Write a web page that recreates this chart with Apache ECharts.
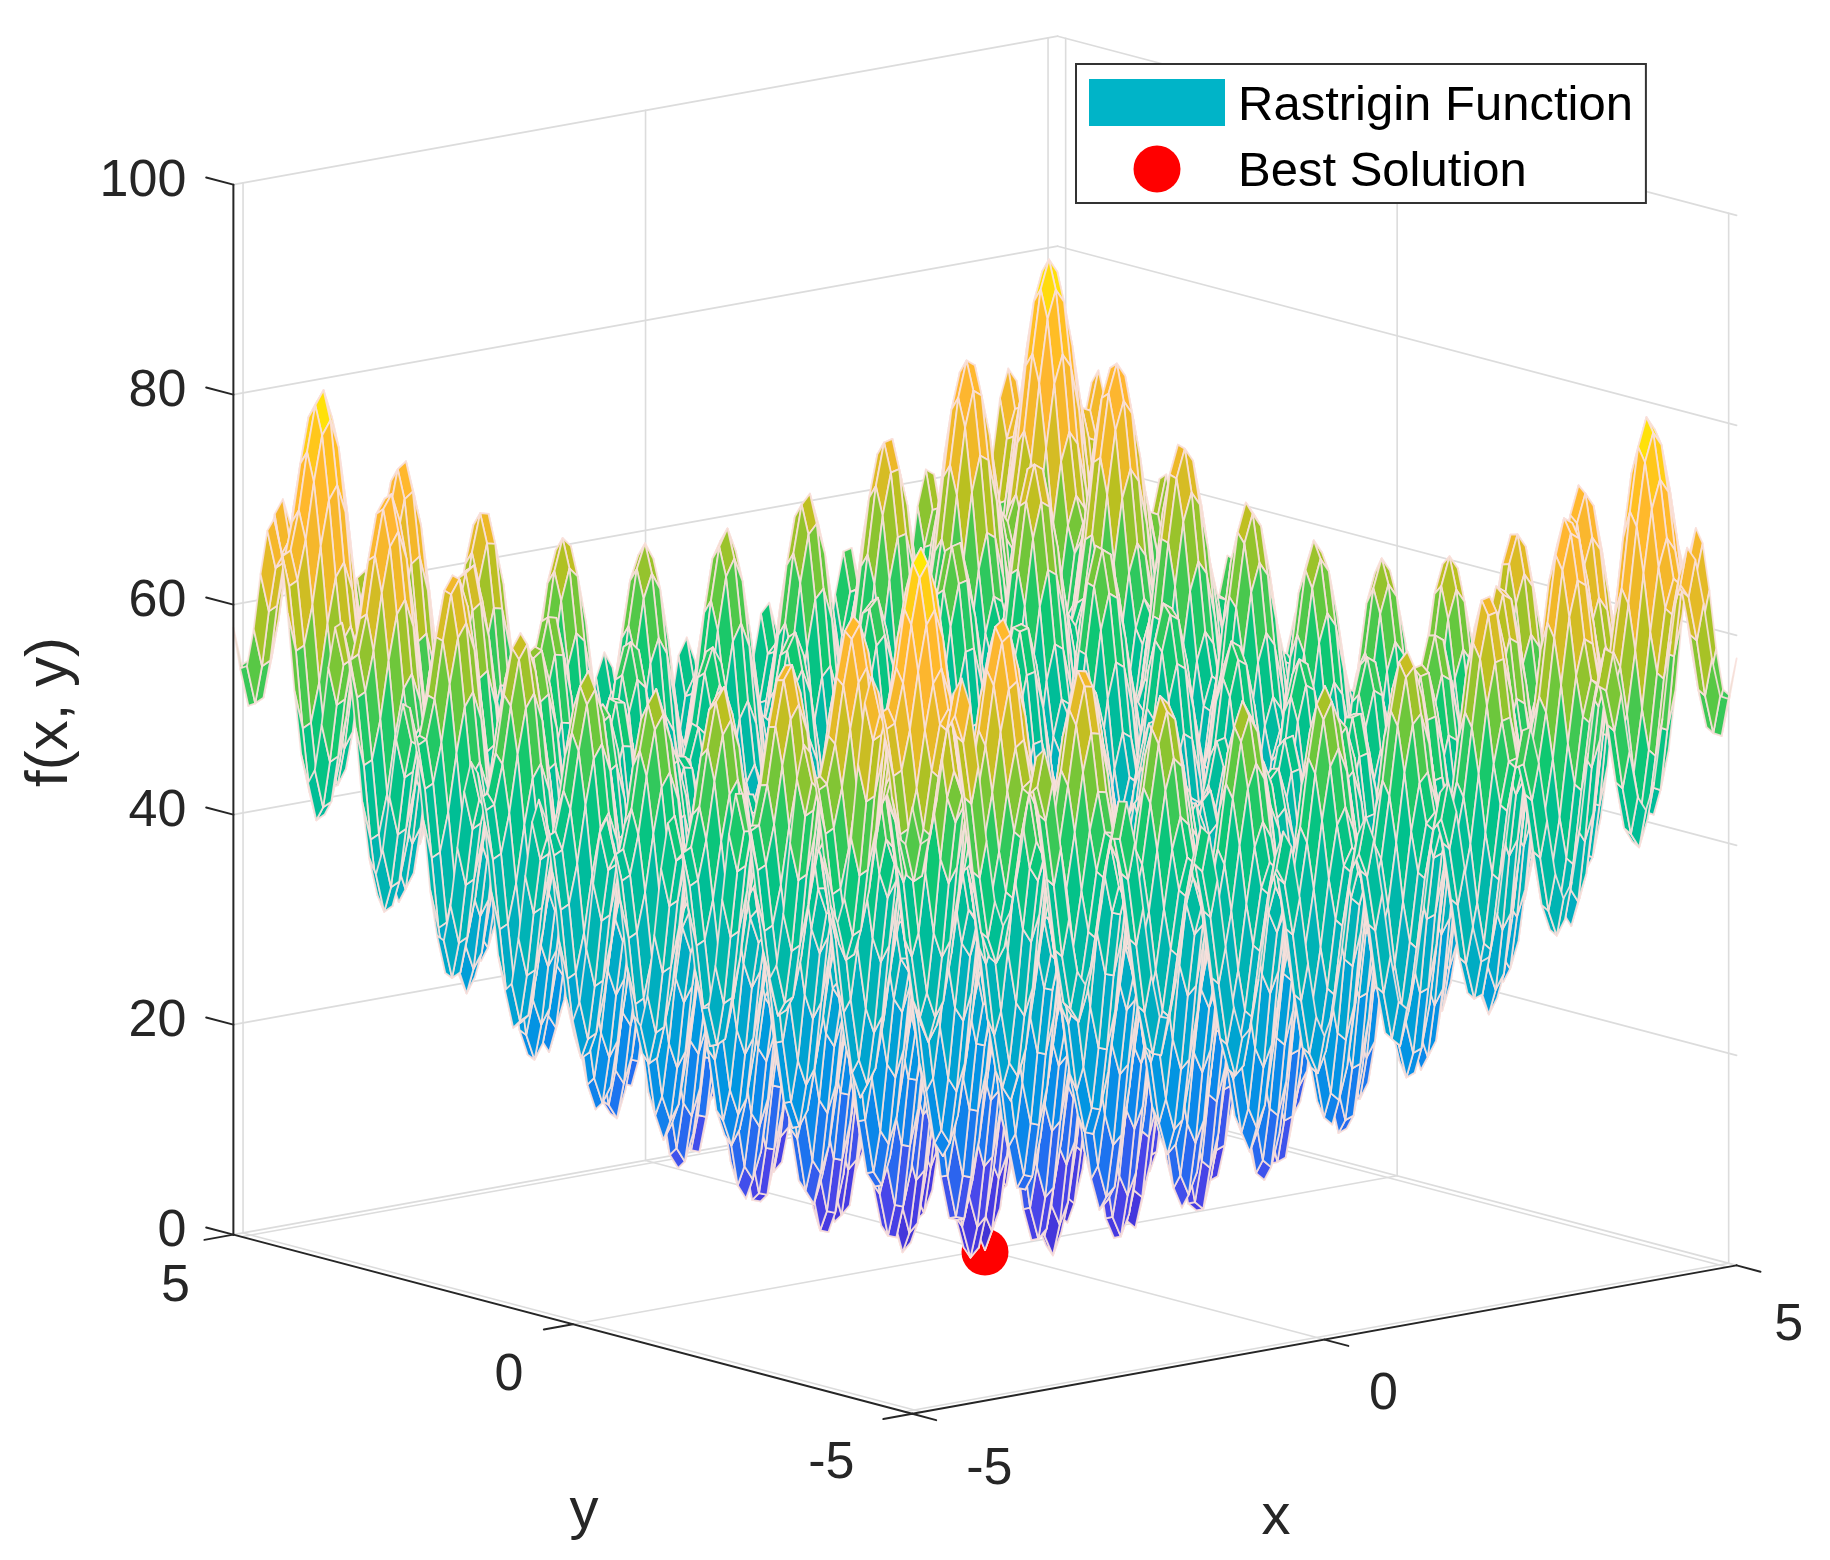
<!DOCTYPE html>
<html>
<head>
<meta charset="utf-8">
<title>Rastrigin Function</title>
<script src="https://cdn.jsdelivr.net/npm/echarts@6/dist/echarts.min.js"></script>
<style>
    html, body { margin: 0; padding: 0; background: #fff; }
    #main { width: 1830px; height: 1560px; }
</style>
</head>
<body>
<div id="main"></div>
<script>
// tick labels of the three axes
const xTicks = [-5, 0, 5]
const yTicks = [-5, 0, 5]
const zTicks = [0, 20, 40, 60, 80, 100]
const axisLimit = 5.12

// mesh positions from the centre outwards; the surface looks the same in all four quadrants
const gridPositions = [0, 0.1024, 0.2048, 0.3072, 0.4096, 0.512, 0.6144, 0.7168, 0.8192, 0.9216, 1.024, 1.1264, 1.2288, 1.3312, 1.4336, 1.536, 1.6384, 1.7408, 1.8432, 1.9456, 2.048, 2.1504, 2.2528, 2.3552, 2.4576, 2.56, 2.6624, 2.7648, 2.8672, 2.9696, 3.072, 3.1744, 3.2768, 3.3792, 3.4816, 3.584, 3.6864, 3.7888, 3.8912, 3.9936, 4.096, 4.1984, 4.3008, 4.4032, 4.5056, 4.608, 4.7104, 4.8128, 4.9152, 5.0176, 5.12]

// f(x, y) for one quadrant, upper triangle only: surfaceRows[a][b - a], with a <= b
const surfaceRows = [
    [0, 2, 7.2, 13.6, 18.6, 20.2, 17.9, 12.6, 6.5, 2, 1.2, 4.3, 10.2, 16.7, 21.2, 22.1, 19.1, 13.6, 7.9, 4.4, 4.7, 8.8, 15.3, 21.7, 25.7, 25.9, 22.3, 16.7, 11.5, 9, 10.4, 15.5, 22.4, 28.7, 32.1, 31.5, 27.5, 21.9, 17.4, 16, 18.5, 24.4, 31.6, 37.6, 40.3, 39, 34.7, 29.3, 25.6, 25.2, 28.9],
    [4, 9.2, 15.6, 20.6, 22.2, 19.9, 14.6, 8.5, 4, 3.2, 6.3, 12.2, 18.7, 23.2, 24.1, 21.1, 15.6, 9.9, 6.4, 6.7, 10.8, 17.3, 23.7, 27.7, 27.9, 24.3, 18.7, 13.5, 11, 12.4, 17.5, 24.4, 30.7, 34.1, 33.5, 29.5, 23.9, 19.4, 18, 20.5, 26.4, 33.6, 39.6, 42.3, 41, 36.7, 31.3, 27.6, 27.2, 30.9],
    [14.4, 20.8, 25.8, 27.4, 25.1, 19.8, 13.7, 9.2, 8.4, 11.5, 17.4, 23.9, 28.4, 29.3, 26.3, 20.8, 15.1, 11.6, 11.9, 16, 22.5, 28.9, 32.9, 33.1, 29.5, 23.9, 18.7, 16.2, 17.6, 22.7, 29.6, 35.9, 39.3, 38.7, 34.7, 29.1, 24.6, 23.2, 25.7, 31.6, 38.8, 44.8, 47.5, 46.2, 41.9, 36.5, 32.8, 32.4, 36.1],
    [27.2, 32.2, 33.8, 31.5, 26.2, 20.1, 15.6, 14.8, 17.9, 23.8, 30.3, 34.8, 35.7, 32.7, 27.2, 21.5, 18, 18.3, 22.4, 28.9, 35.3, 39.3, 39.5, 35.9, 30.3, 25.1, 22.6, 24, 29.1, 36, 42.3, 45.7, 45.1, 41.1, 35.5, 31, 29.6, 32.1, 38, 45.2, 51.2, 53.9, 52.6, 48.3, 42.9, 39.2, 38.8, 42.5],
    [37.2, 38.8, 36.5, 31.2, 25.1, 20.6, 19.8, 22.9, 28.8, 35.3, 39.8, 40.7, 37.7, 32.2, 26.5, 23, 23.3, 27.4, 33.9, 40.3, 44.3, 44.5, 40.9, 35.3, 30.1, 27.6, 29, 34.1, 41, 47.3, 50.7, 50.1, 46.1, 40.5, 36, 34.6, 37.1, 43, 50.2, 56.2, 58.9, 57.6, 53.3, 47.9, 44.2, 43.8, 47.5],
    [40.4, 38.1, 32.8, 26.7, 22.2, 21.4, 24.5, 30.4, 36.9, 41.4, 42.3, 39.3, 33.8, 28.1, 24.6, 24.9, 29, 35.5, 41.9, 45.9, 46.1, 42.5, 36.9, 31.7, 29.2, 30.6, 35.7, 42.6, 48.9, 52.3, 51.7, 47.7, 42.1, 37.6, 36.2, 38.7, 44.6, 51.8, 57.8, 60.5, 59.2, 54.9, 49.5, 45.8, 45.4, 49.1],
    [35.8, 30.5, 24.4, 19.9, 19.1, 22.2, 28.1, 34.6, 39.1, 40, 37, 31.5, 25.8, 22.3, 22.6, 26.7, 33.2, 39.6, 43.6, 43.8, 40.2, 34.6, 29.4, 26.9, 28.3, 33.4, 40.3, 46.6, 50, 49.4, 45.4, 39.8, 35.3, 33.9, 36.4, 42.3, 49.5, 55.5, 58.2, 56.9, 52.6, 47.2, 43.5, 43.1, 46.8],
    [25.2, 19.1, 14.6, 13.8, 16.9, 22.8, 29.3, 33.8, 34.7, 31.7, 26.2, 20.5, 17, 17.3, 21.4, 27.9, 34.3, 38.3, 38.5, 34.9, 29.3, 24.1, 21.6, 23, 28.1, 35, 41.3, 44.7, 44.1, 40.1, 34.5, 30, 28.6, 31.1, 37, 44.2, 50.2, 52.9, 51.6, 47.3, 41.9, 38.2, 37.8, 41.5],
    [13, 8.5, 7.7, 10.8, 16.7, 23.2, 27.7, 28.6, 25.6, 20.1, 14.4, 10.9, 11.2, 15.3, 21.8, 28.2, 32.2, 32.4, 28.8, 23.2, 18, 15.5, 16.9, 22, 28.9, 35.2, 38.6, 38, 34, 28.4, 23.9, 22.5, 25, 30.9, 38.1, 44.1, 46.8, 45.5, 41.2, 35.8, 32.1, 31.7, 35.4],
    [4, 3.2, 6.3, 12.2, 18.7, 23.2, 24.1, 21.1, 15.6, 9.9, 6.4, 6.7, 10.8, 17.3, 23.7, 27.7, 27.9, 24.3, 18.7, 13.5, 11, 12.4, 17.5, 24.4, 30.7, 34.1, 33.5, 29.5, 23.9, 19.4, 18, 20.5, 26.4, 33.6, 39.6, 42.3, 41, 36.7, 31.3, 27.6, 27.2, 30.9],
    [2.4, 5.5, 11.4, 17.9, 22.4, 23.3, 20.3, 14.8, 9.1, 5.6, 5.9, 10, 16.5, 22.9, 26.9, 27.1, 23.5, 17.9, 12.7, 10.2, 11.6, 16.7, 23.6, 29.9, 33.3, 32.7, 28.7, 23.1, 18.6, 17.2, 19.7, 25.6, 32.8, 38.8, 41.5, 40.2, 35.9, 30.5, 26.8, 26.4, 30.1],
    [8.6, 14.5, 21, 25.5, 26.4, 23.4, 17.9, 12.2, 8.7, 9, 13.1, 19.6, 26, 30, 30.2, 26.6, 21, 15.8, 13.3, 14.7, 19.8, 26.7, 33, 36.4, 35.8, 31.8, 26.2, 21.7, 20.3, 22.8, 28.7, 35.9, 41.9, 44.6, 43.3, 39, 33.6, 29.9, 29.5, 33.2],
    [20.4, 26.9, 31.4, 32.3, 29.3, 23.8, 18.1, 14.6, 14.9, 19, 25.5, 31.9, 35.9, 36.1, 32.5, 26.9, 21.7, 19.2, 20.6, 25.7, 32.6, 38.9, 42.3, 41.7, 37.7, 32.1, 27.6, 26.2, 28.7, 34.6, 41.8, 47.8, 50.5, 49.2, 44.9, 39.5, 35.8, 35.4, 39.1],
    [33.4, 37.9, 38.8, 35.8, 30.3, 24.6, 21.1, 21.4, 25.5, 32, 38.4, 42.4, 42.6, 39, 33.4, 28.2, 25.7, 27.1, 32.2, 39.1, 45.4, 48.8, 48.2, 44.2, 38.6, 34.1, 32.7, 35.2, 41.1, 48.3, 54.3, 57, 55.7, 51.4, 46, 42.3, 41.9, 45.6],
    [42.4, 43.3, 40.3, 34.8, 29.1, 25.6, 25.9, 30, 36.5, 42.9, 46.9, 47.1, 43.5, 37.9, 32.7, 30.2, 31.6, 36.7, 43.6, 49.9, 53.3, 52.7, 48.7, 43.1, 38.6, 37.2, 39.7, 45.6, 52.8, 58.8, 61.5, 60.2, 55.9, 50.5, 46.8, 46.4, 50.1],
    [44.2, 41.2, 35.7, 30, 26.5, 26.8, 30.9, 37.4, 43.8, 47.8, 48, 44.4, 38.8, 33.6, 31.1, 32.5, 37.6, 44.5, 50.8, 54.2, 53.6, 49.6, 44, 39.5, 38.1, 40.6, 46.5, 53.7, 59.7, 62.4, 61.1, 56.8, 51.4, 47.7, 47.3, 51],
    [38.2, 32.7, 27, 23.5, 23.8, 27.9, 34.4, 40.8, 44.8, 45, 41.4, 35.8, 30.6, 28.1, 29.5, 34.6, 41.5, 47.8, 51.2, 50.6, 46.6, 41, 36.5, 35.1, 37.6, 43.5, 50.7, 56.7, 59.4, 58.1, 53.8, 48.4, 44.7, 44.3, 48],
    [27.2, 21.5, 18, 18.3, 22.4, 28.9, 35.3, 39.3, 39.5, 35.9, 30.3, 25.1, 22.6, 24, 29.1, 36, 42.3, 45.7, 45.1, 41.1, 35.5, 31, 29.6, 32.1, 38, 45.2, 51.2, 53.9, 52.6, 48.3, 42.9, 39.2, 38.8, 42.5],
    [15.8, 12.3, 12.6, 16.7, 23.2, 29.6, 33.6, 33.8, 30.2, 24.6, 19.4, 16.9, 18.3, 23.4, 30.3, 36.6, 40, 39.4, 35.4, 29.8, 25.3, 23.9, 26.4, 32.3, 39.5, 45.5, 48.2, 46.9, 42.6, 37.2, 33.5, 33.1, 36.8],
    [8.8, 9.1, 13.2, 19.7, 26.1, 30.1, 30.3, 26.7, 21.1, 15.9, 13.4, 14.8, 19.9, 26.8, 33.1, 36.5, 35.9, 31.9, 26.3, 21.8, 20.4, 22.9, 28.8, 36, 42, 44.7, 43.4, 39.1, 33.7, 30, 29.6, 33.3],
    [9.4, 13.5, 20, 26.4, 30.4, 30.6, 27, 21.4, 16.2, 13.7, 15.1, 20.2, 27.1, 33.4, 36.8, 36.2, 32.2, 26.6, 22.1, 20.7, 23.2, 29.1, 36.3, 42.3, 45, 43.7, 39.4, 34, 30.3, 29.9, 33.6],
    [17.6, 24.1, 30.5, 34.5, 34.7, 31.1, 25.5, 20.3, 17.8, 19.2, 24.3, 31.2, 37.5, 40.9, 40.3, 36.3, 30.7, 26.2, 24.8, 27.3, 33.2, 40.4, 46.4, 49.1, 47.8, 43.5, 38.1, 34.4, 34, 37.7],
    [30.6, 37, 41, 41.2, 37.6, 32, 26.8, 24.3, 25.7, 30.8, 37.7, 44, 47.4, 46.8, 42.8, 37.2, 32.7, 31.3, 33.8, 39.7, 46.9, 52.9, 55.6, 54.3, 50, 44.6, 40.9, 40.5, 44.2],
    [43.4, 47.4, 47.6, 44, 38.4, 33.2, 30.7, 32.1, 37.2, 44.1, 50.4, 53.8, 53.2, 49.2, 43.6, 39.1, 37.7, 40.2, 46.1, 53.3, 59.3, 62, 60.7, 56.4, 51, 47.3, 46.9, 50.6],
    [51.4, 51.6, 48, 42.4, 37.2, 34.7, 36.1, 41.2, 48.1, 54.4, 57.8, 57.2, 53.2, 47.6, 43.1, 41.7, 44.2, 50.1, 57.3, 63.3, 66, 64.7, 60.4, 55, 51.3, 50.9, 54.6],
    [51.8, 48.2, 42.6, 37.4, 34.9, 36.3, 41.4, 48.3, 54.6, 58, 57.4, 53.4, 47.8, 43.3, 41.9, 44.4, 50.3, 57.5, 63.5, 66.2, 64.9, 60.6, 55.2, 51.5, 51.1, 54.8],
    [44.6, 39, 33.8, 31.3, 32.7, 37.8, 44.7, 51, 54.4, 53.8, 49.8, 44.2, 39.7, 38.3, 40.8, 46.7, 53.9, 59.9, 62.6, 61.3, 57, 51.6, 47.9, 47.5, 51.2],
    [33.4, 28.2, 25.7, 27.1, 32.2, 39.1, 45.4, 48.8, 48.2, 44.2, 38.6, 34.1, 32.7, 35.2, 41.1, 48.3, 54.3, 57, 55.7, 51.4, 46, 42.3, 41.9, 45.6],
    [23, 20.5, 21.9, 27, 33.9, 40.2, 43.6, 43, 39, 33.4, 28.9, 27.5, 30, 35.9, 43.1, 49.1, 51.8, 50.5, 46.2, 40.8, 37.1, 36.7, 40.4],
    [18, 19.4, 24.5, 31.4, 37.7, 41.1, 40.5, 36.5, 30.9, 26.4, 25, 27.5, 33.4, 40.6, 46.6, 49.3, 48, 43.7, 38.3, 34.6, 34.2, 37.9],
    [20.8, 25.9, 32.8, 39.1, 42.5, 41.9, 37.9, 32.3, 27.8, 26.4, 28.9, 34.8, 42, 48, 50.7, 49.4, 45.1, 39.7, 36, 35.6, 39.3],
    [31, 37.9, 44.2, 47.6, 47, 43, 37.4, 32.9, 31.5, 34, 39.9, 47.1, 53.1, 55.8, 54.5, 50.2, 44.8, 41.1, 40.7, 44.4],
    [44.8, 51.1, 54.5, 53.9, 49.9, 44.3, 39.8, 38.4, 40.9, 46.8, 54, 60, 62.7, 61.4, 57.1, 51.7, 48, 47.6, 51.3],
    [57.4, 60.8, 60.2, 56.2, 50.6, 46.1, 44.7, 47.2, 53.1, 60.3, 66.3, 69, 67.7, 63.4, 58, 54.3, 53.9, 57.6],
    [64.2, 63.6, 59.6, 54, 49.5, 48.1, 50.6, 56.5, 63.7, 69.7, 72.4, 71.1, 66.8, 61.4, 57.7, 57.3, 61],
    [63, 59, 53.4, 48.9, 47.5, 50, 55.9, 63.1, 69.1, 71.8, 70.5, 66.2, 60.8, 57.1, 56.7, 60.4],
    [55, 49.4, 44.9, 43.5, 46, 51.9, 59.1, 65.1, 67.8, 66.5, 62.2, 56.8, 53.1, 52.7, 56.4],
    [43.8, 39.3, 37.9, 40.4, 46.3, 53.5, 59.5, 62.2, 60.9, 56.6, 51.2, 47.5, 47.1, 50.8],
    [34.8, 33.4, 35.9, 41.8, 49, 55, 57.7, 56.4, 52.1, 46.7, 43, 42.6, 46.3],
    [32, 34.5, 40.4, 47.6, 53.6, 56.3, 55, 50.7, 45.3, 41.6, 41.2, 44.9],
    [37, 42.9, 50.1, 56.1, 58.8, 57.5, 53.2, 47.8, 44.1, 43.7, 47.4],
    [48.8, 56, 62, 64.7, 63.4, 59.1, 53.7, 50, 49.6, 53.3],
    [63.2, 69.2, 71.9, 70.6, 66.3, 60.9, 57.2, 56.8, 60.5],
    [75.2, 77.9, 76.6, 72.3, 66.9, 63.2, 62.8, 66.5],
    [80.6, 79.3, 75, 69.6, 65.9, 65.5, 69.2],
    [78, 73.7, 68.3, 64.6, 64.2, 67.9],
    [69.4, 64, 60.3, 59.9, 63.6],
    [58.6, 54.9, 54.5, 58.2],
    [51.2, 50.8, 54.5],
    [50.4, 54.1],
    [57.8]
]

// x, y, f(x, y)
const bestSolution = [0, 0, -0.2]

// colours at every 5 units of f(x, y), from 0 to 80
const surfaceColors = ['#4030cc', '#4638e0', '#4848ea', '#2070f0', '#0a88ea', '#0098e0', '#00a4d0', '#00b0bc', '#00b8a8', '#00c090', '#10c870', '#60c840', '#b8c020', '#f0b828', '#ffb630', '#ffc020', '#ffee00']

// the view: one data unit on each axis, in the plane of the hidden 2D axes
const view = { cx: 985, cy: 1250, xu: 80.5, xv: -14.5, yu: -66.3, yv: -17.5, zv: -10.5 }
const project = (x, y, z) => [
    view.cx + view.xu * x + view.yu * y,
    view.cy + view.xv * x + view.yv * y + view.zv * z
]

const half = gridPositions.length - 1
const heightAt = (i, j) => {
    const a = Math.abs(i - half), b = Math.abs(j - half)
    const lo = Math.min(a, b), hi = Math.max(a, b)
    return surfaceRows[lo][hi - lo]
}
const positionAt = i => (i < half ? -gridPositions[half - i] : gridPositions[i - half])

// far cells first, so that nearer cells paint over them
function buildCells() {
    const cells = []
    for (let i = 0; i < 2 * half; i++) {
        for (let j = 0; j < 2 * half; j++) {
            const corners = [[i, j], [i + 1, j], [i + 1, j + 1], [i, j + 1]]
                .map(([a, b]) => project(positionAt(a), positionAt(b), heightAt(a, b)))
            const mean = (heightAt(i, j) + heightAt(i + 1, j) + heightAt(i + 1, j + 1) + heightAt(i, j + 1)) / 4
            const depth = -view.yu * (positionAt(i) + positionAt(i + 1)) + view.xu * (positionAt(j) + positionAt(j + 1))
            cells.push({ corners, mean, depth })
        }
    }
    cells.sort((p, q) => q.depth - p.depth)
    return cells
}
const cells = buildCells()

function buildFrame() {
    const lines = []
    const L = axisLimit
    const add = (a, b) => lines.push([...project(...a), ...project(...b)])
    zTicks.forEach(z => {
        add([-L, L, z], [L, L, z])
        add([L, L, z], [L, -L, z])
    })
    xTicks.forEach(x => {
        add([x, L, 0], [x, L, 100])
        add([x, -L, 0], [x, L, 0])
    })
    yTicks.forEach(y => {
        add([L, y, 0], [L, y, 100])
        add([-L, y, 0], [L, y, 0])
    })
    return lines
}

function buildAxes() {
    const lines = []
    const L = axisLimit
    const add = (a, b) => lines.push([...project(...a), ...project(...b)])
    add([-L, L, 0], [-L, L, 100])
    add([-L, L, 0], [-L, -L, 0])
    add([-L, -L, 0], [L, -L, 0])
    zTicks.forEach(z => add([-L, L, z], [-L, L + 0.41, z]))
    xTicks.forEach(x => add([x * L / 5, -L, 0], [x * L / 5, -L - 0.36, 0]))
    yTicks.forEach(y => add([-L, y * L / 5, 0], [-L - 0.36, y * L / 5, 0]))
    return lines
}

function buildLabels() {
    const L = axisLimit
    const xOffsets = [[77, 56], [59, 55], [52, 60]]
    const yOffsets = [[-81, 50], [-64, 51], [-58, 52]]
    const labels = []
    zTicks.forEach(z => {
        const p = project(-L, L, z)
        labels.push({ text: String(z), at: [p[0] - 47, p[1] - 3], align: 'right' })
    })
    xTicks.forEach((x, n) => {
        const p = project(x * L / 5, -L, 0)
        labels.push({ text: String(x), at: [p[0] + xOffsets[n][0], p[1] + xOffsets[n][1]], align: 'center' })
    })
    yTicks.forEach((y, n) => {
        const p = project(-L, y * L / 5, 0)
        labels.push({ text: String(y), at: [p[0] + yOffsets[n][0], p[1] + yOffsets[n][1]], align: 'center' })
    })
    labels.push({ text: 'x', at: [1276, 1518], align: 'center', size: 58 })
    labels.push({ text: 'y', at: [584, 1512], align: 'center', size: 58 })
    labels.push({ text: 'f(x, y)', at: [50, 712], align: 'center', size: 60, rotation: Math.PI / 2 })
    return labels
}

const segmentSeries = (lines, color, width, z) => ({
    type: 'custom',
    z,
    silent: true,
    animation: false,
    progressive: 0,
    data: lines,
    renderItem: (params, api) => {
        const a = api.coord([api.value(0), api.value(1)])
        const b = api.coord([api.value(2), api.value(3)])
        return {
            type: 'line',
            shape: { x1: a[0], y1: a[1], x2: b[0], y2: b[1] },
            style: { stroke: color, lineWidth: width, lineCap: 'round' }
        }
    }
})

const labels = buildLabels()

const option = {
    animation: false,
    backgroundColor: '#fff',
    grid: { left: 0, right: 0, top: 0, bottom: 0 },
    xAxis: { type: 'value', min: 0, max: 1830, show: false },
    yAxis: { type: 'value', min: 0, max: 1560, inverse: true, show: false },
    visualMap: {
        show: false,
        seriesIndex: 0,
        dimension: 2,
        min: 0,
        max: 80,
        inRange: { color: surfaceColors }
    },
    legend: {
        left: 1076,
        top: 64,
        orient: 'vertical',
        padding: [15, 13, 6, 13],
        itemWidth: 136,
        itemHeight: 47,
        itemGap: 15,
        backgroundColor: '#fff',
        borderColor: '#333',
        borderWidth: 2,
        selectedMode: false,
        formatter: name => '{t|' + name + '}',
        textStyle: {
            rich: { t: { fontFamily: 'Liberation Sans', fontSize: 49, color: '#000', padding: [7, 0, 0, 8] } }
        },
        data: [
            { name: 'Rastrigin Function', icon: 'rect', itemStyle: { color: '#00b4c8' } },
            { name: 'Best Solution', icon: 'circle', itemStyle: { color: '#ff0000' } }
        ]
    },
    series: [
        {
            name: 'Rastrigin Function',
            type: 'custom',
            z: 4,
            silent: true,
            animation: false,
            progressive: 0,
            data: cells.map((c, n) => [n, n, c.mean]),
            encode: { x: 0, y: 1 },
            renderItem: (params, api) => ({
                type: 'polygon',
                shape: { points: cells[params.dataIndex].corners.map(p => api.coord(p)) },
                style: { fill: api.visual('color'), stroke: 'rgba(250,224,220,0.9)', lineWidth: 1.8, lineJoin: 'round' }
            })
        },
        segmentSeries(buildFrame(), '#dcdcdc', 1.6, 1),
        {
            name: 'Best Solution',
            type: 'scatter',
            z: 3,
            silent: true,
            symbol: 'circle',
            symbolSize: 47,
            itemStyle: { color: '#ff0000', opacity: 1 },
            data: [project(...bestSolution)]
        },
        segmentSeries(buildAxes(), '#262626', 2, 5),
        {
            type: 'custom',
            z: 6,
            silent: true,
            animation: false,
            progressive: 0,
            data: labels.map(l => l.at),
            renderItem: (params, api) => {
                const l = labels[params.dataIndex]
                const p = api.coord(l.at)
                return {
                    type: 'text',
                    x: p[0],
                    y: p[1],
                    rotation: l.rotation || 0,
                    style: {
                        text: l.text,
                        fill: '#262626',
                        font: (l.size || 52) + 'px "Liberation Sans"',
                        align: l.align,
                        verticalAlign: 'middle'
                    }
                }
            }
        }
    ]
}

const chart = echarts.init(document.getElementById('main'), null, { renderer: 'canvas' })
chart.setOption(option)
</script>
</body>
</html>
